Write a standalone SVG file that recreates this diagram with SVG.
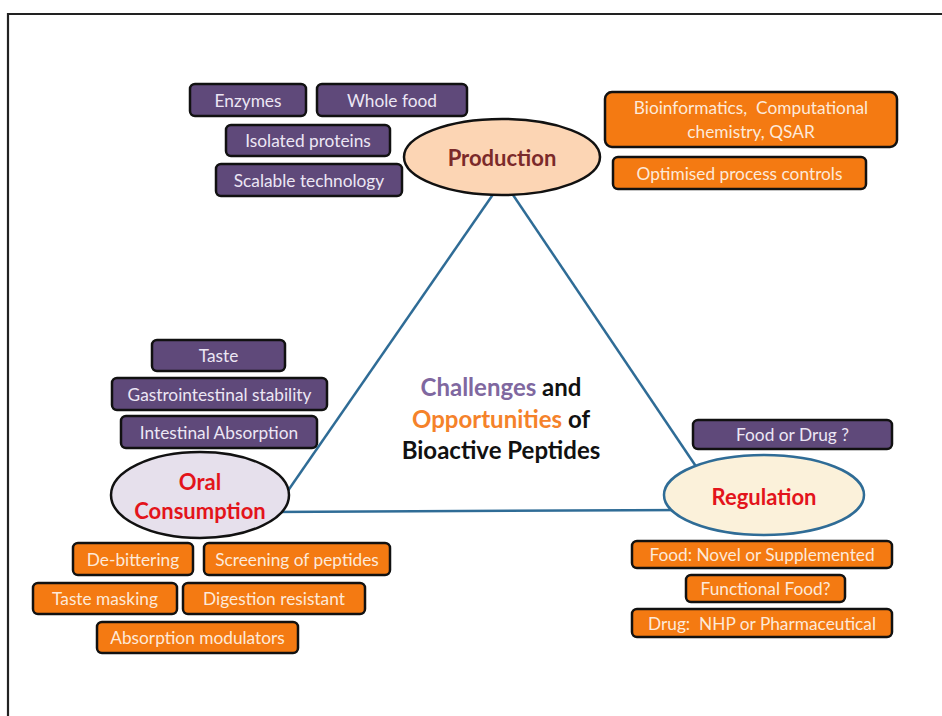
<svg xmlns="http://www.w3.org/2000/svg" width="942" height="716" viewBox="0 0 942 716">
<style>
.p rect{fill:#5f497a;stroke:#111;stroke-width:2.5}
.o rect{fill:#f47a12;stroke:#111;stroke-width:2.5}
.p text{fill:#ece6f4}
.o text{fill:#fde9d9}
text{font-family:Lato,"Open Sans","Liberation Sans",sans-serif;font-size:17.3px;text-anchor:middle;dominant-baseline:central}
.t{font-weight:bold;font-size:22px;fill:#e3141b}
.c{font-weight:bold;font-size:24px;fill:#111}
</style>
<rect width="942" height="716" fill="#fff"/>
<path d="M8 716V14H942" fill="none" stroke="#222" stroke-width="2.2"/>
<g id="connectors" stroke="#2f6c96" stroke-width="2.5" fill="none">
<line x1="503" y1="180" x2="267" y2="521"/>
<line x1="503" y1="180" x2="720" y2="502"/>
<line x1="270" y1="512" x2="690" y2="510"/>
</g>
<g id="production">
<ellipse cx="502" cy="157" rx="98" ry="38" fill="#fcd5b4" stroke="#111" stroke-width="2.5"/>
<text x="502" y="157" class="t" style="fill:#7b2a2a">Production</text>
</g>
<g id="oral">
<ellipse cx="200" cy="495" rx="89" ry="43" fill="#e6e0ec" stroke="#111" stroke-width="2.5"/>
<text x="200" y="481" class="t">Oral</text>
<text x="200" y="510" class="t">Consumption</text>
</g>
<g id="regulation">
<ellipse cx="764" cy="495" rx="100" ry="40" fill="#fbf1da" stroke="#2f6c96" stroke-width="2.5"/>
<text x="764" y="496" class="t">Regulation</text>
</g>
<g id="center">
<text x="501" y="386" class="c"><tspan fill="#7f68a0">Challenges</tspan> and</text>
<text x="501" y="418" class="c"><tspan fill="#f5822a">Opportunities</tspan> of</text>
<text x="501" y="449" class="c">Bioactive Peptides</text>
</g>
<g id="enzymes" class="p"><rect x="190" y="84" width="116" height="32" rx="5"/><text x="248" y="100">Enzymes</text></g>
<g id="wholefood" class="p"><rect x="317" y="84" width="150" height="32" rx="5"/><text x="392" y="100">Whole food</text></g>
<g id="isolated" class="p"><rect x="226" y="125" width="164" height="31" rx="5"/><text x="308" y="140.5">Isolated proteins</text></g>
<g id="scalable" class="p"><rect x="216" y="164" width="186" height="32" rx="5"/><text x="309" y="180">Scalable technology</text></g>
<g id="bioinformatics" class="o"><rect x="605" y="92" width="292" height="55" rx="7"/><text x="751" y="107">Bioinformatics,&#160; Computational</text><text x="751" y="131">chemistry, QSAR</text></g>
<g id="optimised" class="o"><rect x="613" y="157" width="253" height="32" rx="5"/><text x="739.5" y="173">Optimised process controls</text></g>
<g id="taste" class="p"><rect x="152" y="340" width="133" height="31" rx="5"/><text x="218.5" y="355.5">Taste</text></g>
<g id="gastro" class="p"><rect x="112" y="378" width="215" height="32" rx="5"/><text x="219.5" y="394">Gastrointestinal stability</text></g>
<g id="intestinal" class="p"><rect x="121" y="416" width="196" height="32" rx="5"/><text x="219" y="432">Intestinal Absorption</text></g>
<g id="foodordrug" class="p"><rect x="693" y="420" width="199" height="29" rx="5"/><text x="792.5" y="434.5">Food or Drug ?</text></g>
<g id="novel" class="o"><rect x="632" y="541" width="260" height="27" rx="5"/><text x="762" y="554.5">Food: Novel or Supplemented</text></g>
<g id="functional" class="o"><rect x="686" y="575" width="159" height="27" rx="5"/><text x="765.5" y="588.5">Functional Food?</text></g>
<g id="drug" class="o"><rect x="632" y="609" width="260" height="28" rx="5"/><text x="762" y="623">Drug:&#160; NHP or Pharmaceutical</text></g>
<g id="debittering" class="o"><rect x="73" y="543" width="120" height="32" rx="5"/><text x="133" y="559">De-bittering</text></g>
<g id="screening" class="o"><rect x="204" y="543" width="186" height="32" rx="5"/><text x="297" y="559">Screening of peptides</text></g>
<g id="tastemasking" class="o"><rect x="33" y="583" width="144" height="31" rx="5"/><text x="105" y="598.5">Taste masking</text></g>
<g id="digestion" class="o"><rect x="183" y="583" width="182" height="31" rx="5"/><text x="274" y="598.5">Digestion resistant</text></g>
<g id="absorption" class="o"><rect x="97" y="622" width="201" height="31" rx="5"/><text x="197.5" y="637.5">Absorption modulators</text></g>
</svg>
